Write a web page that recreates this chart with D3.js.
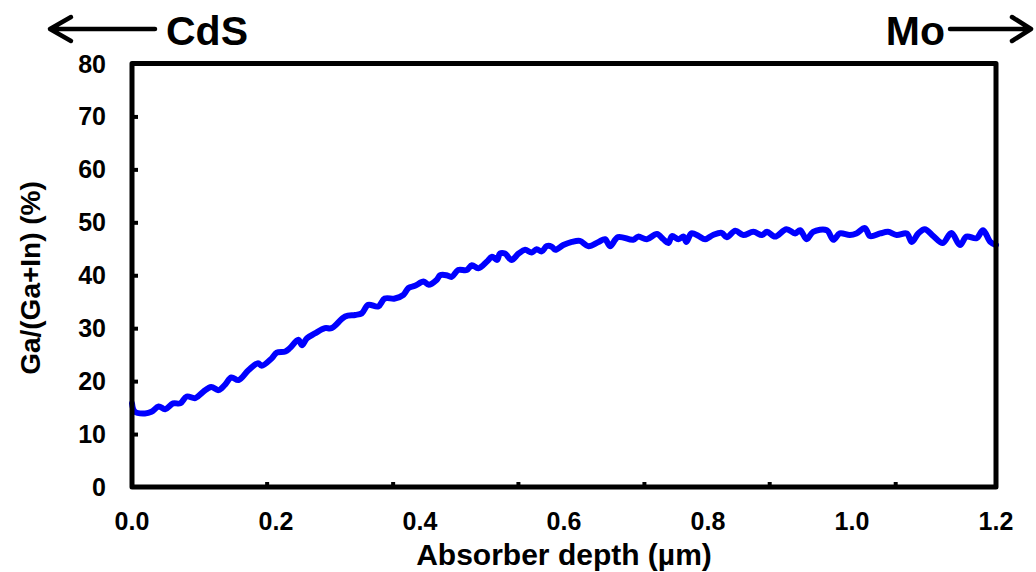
<!DOCTYPE html>
<html><head><meta charset="utf-8">
<script src="https://cdn.jsdelivr.net/npm/d3@7"></script>
<style>html,body{margin:0;padding:0;background:#fff;}svg{display:block;}</style>
</head><body>
<svg id="chart" width="1036" height="572"></svg>
<script>
const depth = [0, 0.004, 0.018, 0.027, 0.037, 0.046, 0.057, 0.067, 0.076, 0.088, 0.099, 0.11, 0.12, 0.129, 0.138, 0.148, 0.162, 0.175, 0.18, 0.194, 0.201, 0.213, 0.219, 0.231, 0.236, 0.243, 0.254, 0.268, 0.277, 0.296, 0.31, 0.319, 0.328, 0.342, 0.351, 0.365, 0.377, 0.384, 0.393, 0.405, 0.412, 0.423, 0.428, 0.437, 0.444, 0.453, 0.465, 0.472, 0.481, 0.493, 0.5, 0.507, 0.511, 0.518, 0.527, 0.537, 0.546, 0.555, 0.562, 0.569, 0.576, 0.583, 0.588, 0.599, 0.611, 0.622, 0.634, 0.648, 0.657, 0.664, 0.675, 0.696, 0.703, 0.715, 0.729, 0.738, 0.745, 0.75, 0.759, 0.766, 0.77, 0.777, 0.787, 0.796, 0.807, 0.819, 0.826, 0.838, 0.849, 0.863, 0.875, 0.882, 0.893, 0.909, 0.921, 0.928, 0.937, 0.946, 0.965, 0.974, 0.983, 0.997, 1.006, 1.018, 1.025, 1.039, 1.05, 1.062, 1.076, 1.083, 1.092, 1.101, 1.113, 1.126, 1.138, 1.15, 1.159, 1.173, 1.182, 1.192, 1.2];
const gaRatio = [15.8, 14.2, 13.9, 14.2, 15.2, 14.7, 15.8, 15.8, 17.1, 16.8, 18.0, 18.9, 18.3, 19.3, 20.7, 20.2, 22.1, 23.4, 22.9, 24.3, 25.4, 25.6, 26.2, 27.8, 26.8, 28.1, 29.0, 30.0, 30.0, 32.2, 32.5, 32.8, 34.4, 34.1, 35.6, 35.6, 36.3, 37.6, 38.0, 38.8, 38.2, 39.1, 40.0, 40.0, 39.7, 41.0, 41.0, 41.9, 41.3, 42.6, 43.5, 42.9, 44.1, 44.1, 42.9, 44.1, 44.8, 44.3, 44.9, 44.5, 45.5, 45.4, 44.8, 45.7, 46.3, 46.5, 45.5, 46.3, 46.8, 45.5, 47.2, 46.7, 47.3, 46.8, 47.8, 46.8, 46.1, 47.4, 46.8, 47.3, 46.3, 47.9, 47.4, 46.8, 47.6, 48.0, 47.2, 48.4, 47.6, 48.2, 47.6, 48.2, 47.3, 48.7, 47.9, 48.5, 46.8, 48.2, 48.5, 46.7, 47.9, 47.6, 47.9, 48.9, 47.4, 47.9, 48.2, 47.6, 47.9, 46.3, 47.9, 48.7, 47.4, 46.1, 48.0, 45.7, 47.3, 47.0, 48.5, 46.3, 45.7];
const xTickLabels = [0, 0.2, 0.4, 0.6, 0.8, 1.0, 1.2];
const xTickMarks = [0.187, 0.362, 0.536, 0.711, 0.885, 1.06];
const yTicks = [0, 10, 20, 30, 40, 50, 60, 70, 80];
const xTitle = "Absorber depth (µm)";
const yTitle = "Ga/(Ga+In) (%)";
const leftLabel = "CdS";
const rightLabel = "Mo";

const svg = d3.select("#chart");
const font = "'Liberation Sans', Arial, Helvetica, sans-serif";
const L = 132, R = 996, T = 63.5, B = 487;
const x = d3.scaleLinear().domain([0, 1.2]).range([L, R]);
const y = d3.scaleLinear().domain([0, 80]).range([B, T]);

// curve
const data = depth.map((d, i) => [d, gaRatio[i]]);
svg.append("path")
  .datum(data)
  .attr("fill", "none")
  .attr("stroke", "#0000ff")
  .attr("stroke-width", 6)
  .attr("stroke-linejoin", "round")
  .attr("stroke-linecap", "round")
  .attr("d", d3.line().curve(d3.curveCatmullRom.alpha(0.5)).x(d => x(d[0])).y(d => y(d[1])));

// y axis ticks (inside)
const yAxis = d3.axisRight(y).tickValues(yTicks.filter(v => v > 0 && v < 80)).tickSize(6).tickFormat("");
const gy = svg.append("g").attr("transform", `translate(${L},0)`).call(yAxis);
gy.select(".domain").remove();
gy.selectAll("line").attr("stroke", "#000").attr("stroke-width", 4);

// x axis tick marks (inside)
const xAxis = d3.axisTop(x).tickValues(xTickMarks).tickSize(5).tickFormat("");
const gx = svg.append("g").attr("transform", `translate(0,${B})`).call(xAxis);
gx.select(".domain").remove();
gx.selectAll("line").attr("stroke", "#000").attr("stroke-width", 4);

// frame
svg.append("rect")
  .attr("x", L).attr("y", T).attr("width", R - L).attr("height", B - T)
  .attr("fill", "none").attr("stroke", "#000").attr("stroke-width", 5)
  .attr("stroke-linejoin", "round");

// y tick labels
svg.append("g").selectAll("text").data(yTicks).join("text")
  .attr("x", 106).attr("y", d => y(d))
  .attr("dy", "0.36em")
  .attr("text-anchor", "end")
  .attr("font-family", font).attr("font-weight", "bold").attr("font-size", 25)
  .text(d => d);

// x tick labels
svg.append("g").selectAll("text").data(xTickLabels).join("text")
  .attr("x", d => x(d)).attr("y", 530)
  .attr("text-anchor", "middle")
  .attr("font-family", font).attr("font-weight", "bold").attr("font-size", 25)
  .text(d => d.toFixed(1));

// axis titles
svg.append("text")
  .attr("x", 564).attr("y", 565)
  .attr("text-anchor", "middle")
  .attr("font-family", font).attr("font-weight", "bold").attr("font-size", 30)
  .text(xTitle);

svg.append("text")
  .attr("transform", "translate(40,278) rotate(-90)")
  .attr("text-anchor", "middle")
  .attr("font-family", font).attr("font-weight", "bold").attr("font-size", 28)
  .text(yTitle);

// CdS / Mo labels with arrows
svg.append("text")
  .attr("x", 166).attr("y", 45)
  .attr("font-family", font).attr("font-weight", "bold").attr("font-size", 41)
  .text(leftLabel);
svg.append("text")
  .attr("x", 945).attr("y", 45)
  .attr("text-anchor", "end")
  .attr("font-family", font).attr("font-weight", "bold").attr("font-size", 41)
  .text(rightLabel);

const arrowStyle = sel => sel.attr("fill", "none").attr("stroke", "#000").attr("stroke-width", 4.5)
  .attr("stroke-linecap", "round").attr("stroke-linejoin", "round");
svg.append("path").attr("d", "M155,29 L50,29 M71,17 L50,29 L71,41").call(arrowStyle);
svg.append("path").attr("d", "M950,29 L1031,29 M1012,17 L1031,29 L1012,41").call(arrowStyle);
</script>
</body></html>
